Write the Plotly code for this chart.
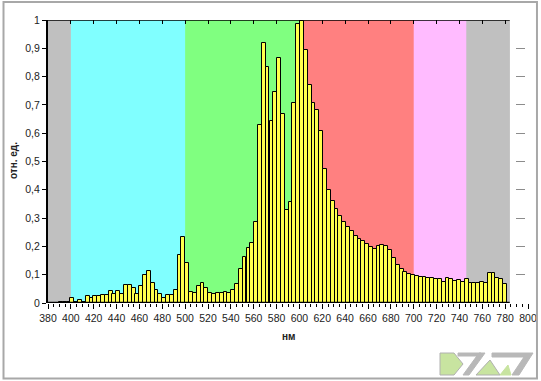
import plotly.graph_objects as go

# ---- data ----
wavelengths = [381.2, 384.5, 387.9, 391.2, 394.6, 397.9, 401.3, 404.6, 408.0, 411.3,
               414.7, 418.0, 421.4, 424.7, 428.1, 431.4, 434.8, 438.1, 441.5, 444.8,
               448.2, 451.5, 454.9, 458.2, 461.6, 464.9, 468.3, 471.6, 475.0, 478.3,
               481.7, 485.0, 488.4, 491.7, 495.1, 498.4, 501.8, 505.1, 508.5, 511.8,
               515.2, 518.5, 521.9, 525.2, 528.6, 531.9, 535.3, 538.6, 542.0, 545.3,
               548.7, 552.0, 555.4, 558.7, 562.1, 565.4, 568.8, 572.1, 575.5, 578.8,
               582.2, 585.5, 588.9, 592.2, 595.6, 598.9, 602.3, 605.6, 609.0, 612.3,
               615.7, 619.0, 622.4, 625.7, 629.1, 632.4, 635.8, 639.1, 642.5, 645.8,
               649.2, 652.5, 655.9, 659.2, 662.6, 665.9, 669.3, 672.6, 676.0, 679.3,
               682.7, 686.0, 689.4, 692.7, 696.1, 699.4, 702.8, 706.1, 709.5, 712.8,
               716.2, 719.5, 722.9, 726.2, 729.6, 732.9, 736.3, 739.6, 743.0, 746.3,
               749.7, 753.0, 756.4, 759.7, 763.1, 766.4, 769.8, 773.1, 776.5, 779.8]
intensity = [0, 0, 0, 0.003, 0.003, 0.003, 0.016, 0.003, 0.009, 0.003,
             0.025, 0.016, 0.026, 0.024, 0.027, 0.027, 0.041, 0.033, 0.041, 0.031,
             0.063, 0.063, 0.053, 0.033, 0.059, 0.100, 0.112, 0.072, 0.047, 0.031,
             0.019, 0.027, 0.027, 0.047, 0.170, 0.232, 0.142, 0.040, 0.035, 0.059,
             0.070, 0.052, 0.037, 0.031, 0.035, 0.035, 0.038, 0.035, 0.047, 0.068,
             0.120, 0.163, 0.195, 0.213, 0.287, 0.630, 0.920, 0.834, 0.643, 0.746,
             0.867, 0.668, 0.330, 0.356, 0.707, 0.986, 0.995, 0.893, 0.772, 0.707,
             0.683, 0.608, 0.474, 0.400, 0.362, 0.332, 0.309, 0.285, 0.270, 0.253,
             0.237, 0.225, 0.220, 0.210, 0.198, 0.190, 0.202, 0.206, 0.202, 0.187,
             0.160, 0.135, 0.120, 0.109, 0.102, 0.098, 0.096, 0.092, 0.092, 0.089,
             0.088, 0.085, 0.084, 0.074, 0.088, 0.084, 0.078, 0.080, 0.074, 0.084,
             0.070, 0.072, 0.070, 0.073, 0.072, 0.105, 0.105, 0.088, 0.085, 0.067]

band_edges = [380, 400, 500, 600, 700, 746, 784]
band_colors = ["#c0c0c0", "#80ffff", "#80ff80", "#ff8080", "#ffbbff", "#c0c0c0"]

x_ticks = list(range(380, 801, 20))
y_ticks = [0, 0.1, 0.2, 0.3, 0.4, 0.5, 0.6, 0.7, 0.8, 0.9, 1.0]
y_ticktext = ["0", "0,1", "0,2", "0,3", "0,4", "0,5", "0,6", "0,7", "0,8", "0,9", "1"]

x_title = "нм"
y_title = "отн. ед."

# ---- figure ----
fig = go.Figure()
fig.add_bar(x=wavelengths, y=intensity, width=3.35,
            marker=dict(color="#ffff4d", line=dict(color="black", width=1)),
            hoverinfo="x+y", showlegend=False)
# helper trace for the top (mirrored) axis
fig.add_scatter(x=[x_ticks[0]], y=[0], xaxis="x2", mode="markers",
                marker=dict(opacity=0), hoverinfo="skip", showlegend=False)

shapes = []
shapes.append(dict(type="rect", xref="x", yref="y", x0=band_edges[0], x1=band_edges[-1],
                   y0=0, y1=1, fillcolor=band_colors[0], line=dict(width=0), layer="between"))
for i, c in enumerate(band_colors):
    x1 = band_edges[i + 1] + (0.8 if i < len(band_colors) - 1 else 0)
    shapes.append(dict(type="rect", xref="x", yref="y", x0=band_edges[i], x1=x1,
                       y0=0, y1=1, fillcolor=c, line=dict(width=0), layer="between"))
shapes.append(dict(type="line", xref="x", yref="y", x0=band_edges[0], x1=band_edges[-1], y0=1, y1=1,
                   line=dict(color="black", width=1.5), layer="above"))
shapes.append(dict(type="line", xref="x", yref="y", x0=band_edges[0], x1=band_edges[-1], y0=0, y1=0,
                   line=dict(color="black", width=2.5), layer="above"))
shapes.append(dict(type="rect", xref="paper", yref="paper", x0=-0.0927, x1=1.0187, y0=-0.2668, y1=1.0636,
                   line=dict(color="#a8a8a8", width=2), fillcolor="rgba(0,0,0,0)", layer="above"))

def logo_path(pts):
    return "M " + " L ".join(f"{px - 48},{303 - py}" for px, py in pts) + " Z"

logo = [
    ([(440, 353), (454, 353), (463, 364), (454, 375), (440, 375)], "#c8e4a0", "#b0b0b0"),
    ([(463, 375), (479, 353), (485, 353), (469, 375)], "#b8b8b8", "#b8b8b8"),
    ([(458, 353), (481, 353), (480, 356), (458, 356)], "#b8b8b8", "#b8b8b8"),
    ([(476, 375), (490, 360), (500, 375)], "#c8e4a0", "#b0b0b0"),
    ([(492, 353), (533, 353), (519, 375), (512, 375), (524, 357), (492, 357)], "#b8b8b8", "#b8b8b8"),
    ([(500, 375), (508, 365), (511, 375)], "#c8e4a0", "#c8e4a0"),
]
for pts, fill, ln in logo:
    shapes.append(dict(type="path", xref="paper", yref="paper", xsizemode="pixel", ysizemode="pixel",
                       xanchor=0, yanchor=0, path=logo_path(pts), fillcolor=fill,
                       line=dict(color=ln, width=1), layer="above"))

fig.update_layout(
    width=541, height=381,
    margin=dict(l=48, r=13, t=20, b=78, autoexpand=False),
    paper_bgcolor="white", plot_bgcolor="white",
    bargap=0,
    shapes=shapes,
    font=dict(family="Liberation Sans, Arial, sans-serif", size=10.5, color="#222222"),
    xaxis=dict(range=[380, 800], tickmode="array", tickvals=x_ticks, ticks="outside", ticklen=5,
               tickcolor="black", tickwidth=1, showline=False, zeroline=False, automargin=False,
               showgrid=True, gridcolor="#8c8c8c", griddash="dash", gridwidth=1,
               minor=dict(dtick=5, tick0=380, ticks="outside", ticklen=3, tickcolor="black", showgrid=False),
               fixedrange=True),
    xaxis2=dict(range=[380, 800], overlaying="x", side="top", tickmode="array", tickvals=x_ticks,
                ticks="inside", ticklen=4, tickcolor="black", showticklabels=False, automargin=False,
                showgrid=False, zeroline=False, showline=False),
    yaxis=dict(range=[0, 1], tickmode="array", tickvals=y_ticks, ticktext=y_ticktext,
               ticks="outside", ticklen=4, tickcolor="black", showline=True, linecolor="black",
               linewidth=2, zeroline=False, showgrid=True, gridcolor="#8c8c8c", griddash="dash",
               gridwidth=1, fixedrange=True, automargin=False),
    annotations=[
        dict(text=f"<b>{x_title}</b>", xref="paper", yref="paper", x=0.5, y=-0.12,
             showarrow=False, font=dict(size=10, color="#222222"), xanchor="center", yanchor="middle"),
        dict(text=f"<b>{y_title}</b>", xref="paper", yref="paper", x=-0.073, y=0.505,
             textangle=-90, showarrow=False, font=dict(size=10, color="#222222"),
             xanchor="center", yanchor="middle"),
    ],
)

fig.write_html("out.html", config={"displayModeBar": False},
               post_script="document.body.style.margin='0px';document.body.style.overflow='hidden';")
